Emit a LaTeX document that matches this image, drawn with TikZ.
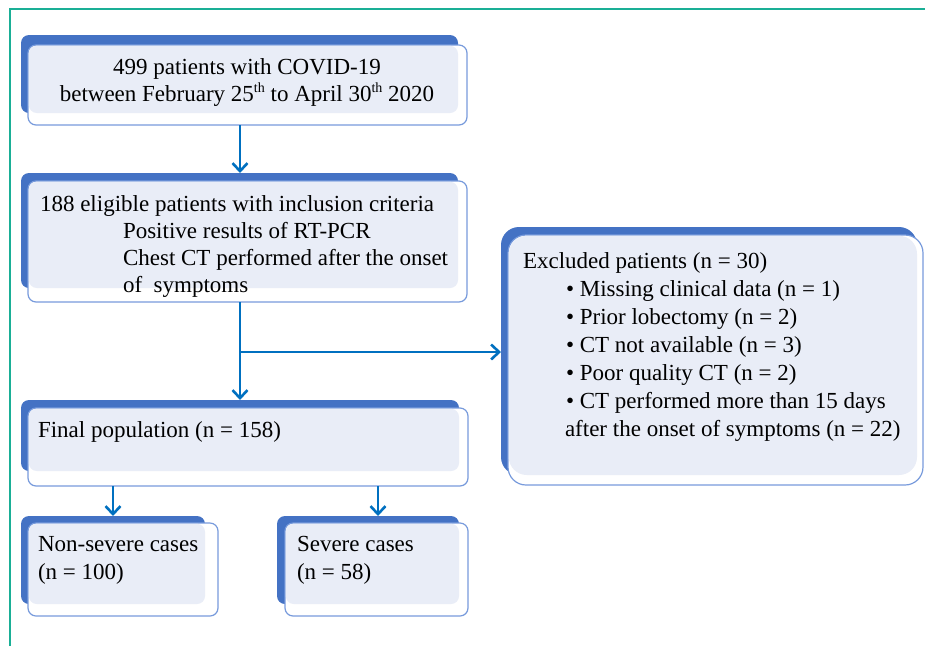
\documentclass[tikz,border=0pt]{standalone}
\usepackage{fontspec}
\setmainfont{Liberation Serif}
\usetikzlibrary{arrows.meta}
\definecolor{darkb}{RGB}{68,114,196}
\definecolor{lightb}{RGB}{233,237,247}
\definecolor{edgeb}{RGB}{120,155,220}
\definecolor{arrb}{RGB}{0,112,192}
\definecolor{framec}{RGB}{26,175,150}
\def\rad{8pt}
\newcommand\supth{\raisebox{0.38em}{\fontsize{14}{14}\selectfont th}}
\tikzset{
  darkbox/.style={fill=darkb, rounded corners=\rad, inner sep=0pt, outer sep=0pt, draw=none},
  frontbox/.style={fill=white, draw=edgeb, line width=1.2pt, rounded corners=\rad, inner sep=0pt, outer sep=0pt},
  lightbox/.style={fill=lightb, draw=none, rounded corners=\rad, inner sep=0pt, outer sep=0pt},
  txt/.style={inner sep=0pt, outer sep=0pt, font=\fontsize{23}{27}\selectfont, text=black},
  arr/.style={draw=arrb, line width=2.6pt, -{Straight Barb[length=8pt,width=15pt]}},
  frameline/.style={draw=framec, line width=2pt},
}
\newcommand\flowbox[9]{%
  \node[darkbox, minimum width={#4-#2}, minimum height={#5-#3}, anchor=north west] (#1d) at (#2,#3) {};
  \node[frontbox, minimum width={#8-#6}, minimum height={#9-#7}, anchor=north west] (#1) at (#6,#7) {};
  \node[lightbox, minimum width={#4-#6-0.8}, minimum height={#5-#7-0.8}, anchor=north west] (#1l) at (#6+0.8,#7+0.8) {};
}
\begin{document}
\begin{tikzpicture}[x=1pt,y=-1pt]
\useasboundingbox (0,0) rectangle (925,646);
\fill[white] (0,0) rectangle (925,646);
\draw[frameline] (9.5,646) -- (9.5,8.5) -- (925,8.5);

\flowbox{b1}{21}{35}{458}{113}{28}{45}{467}{125}
\flowbox{b2}{21}{173}{458}{288}{28}{181}{467}{302}
\flowbox{b3}{21}{400}{459}{471}{28}{408}{468}{486}
\flowbox{b4}{21}{516}{205}{604}{28}{523}{218}{616}
\flowbox{b5}{277}{516}{459}{604}{285}{523}{468}{616}
\def\rad{18pt}
\flowbox{ex}{501}{227}{917}{475}{508}{235}{923}{485}

\node[txt, anchor=base] (t1a) at (247,74) {499 patients with COVID-19};
\node[txt, anchor=base] (t1b) at (247,101) {between February 25\supth{} to April 30\supth{} 2020};

\node[txt, anchor=base west] (t2a) at (40,211) {188 eligible patients with inclusion criteria};
\node[txt, anchor=base west] (t2b) at (123,238) {Positive results of RT-PCR};
\node[txt, anchor=base west] (t2c) at (123,265) {Chest CT performed after the onset};
\node[txt, anchor=base west] (t2d) at (123,292) {of~ symptoms};

\node[txt, anchor=base west] (tea) at (523,268) {Excluded patients (n = 30)};
\node[txt, anchor=base west] (teb) at (566,296) {• Missing clinical data (n = 1)};
\node[txt, anchor=base west] (tec) at (566,324) {• Prior lobectomy (n = 2)};
\node[txt, anchor=base west] (ted) at (566,352) {• CT not available (n = 3)};
\node[txt, anchor=base west] (tee) at (566,380) {• Poor quality CT (n = 2)};
\node[txt, anchor=base west] (tef) at (566,408) {• CT performed more than 15 days};
\node[txt, anchor=base west] (teg) at (565,436) {after the onset of symptoms (n = 22)};

\node[txt, anchor=base west] (t3) at (38,437) {Final population (n = 158)};
\node[txt, anchor=base west] (t4a) at (38,551) {Non-severe cases};
\node[txt, anchor=base west] (t4b) at (38,579) {(n = 100)};
\node[txt, anchor=base west] (t5a) at (297,551) {Severe cases};
\node[txt, anchor=base west] (t5b) at (297,579) {(n = 58)};

\coordinate (ax) at (240,0);
\coordinate (a4) at (113,0);
\coordinate (a5) at (378,0);
\coordinate (br) at (240,352);
\draw[arr] (b1.south -| ax) -- (b2d.north -| ax);
\draw[arr] (b2.south -| ax) -- (b3d.north -| ax);
\draw[arr] (br) -- (exd.west |- br);
\draw[arr] (b3.south -| a4) -- (b4d.north -| a4);
\draw[arr] (b3.south -| a5) -- (b5d.north -| a5);
\end{tikzpicture}
\end{document}
